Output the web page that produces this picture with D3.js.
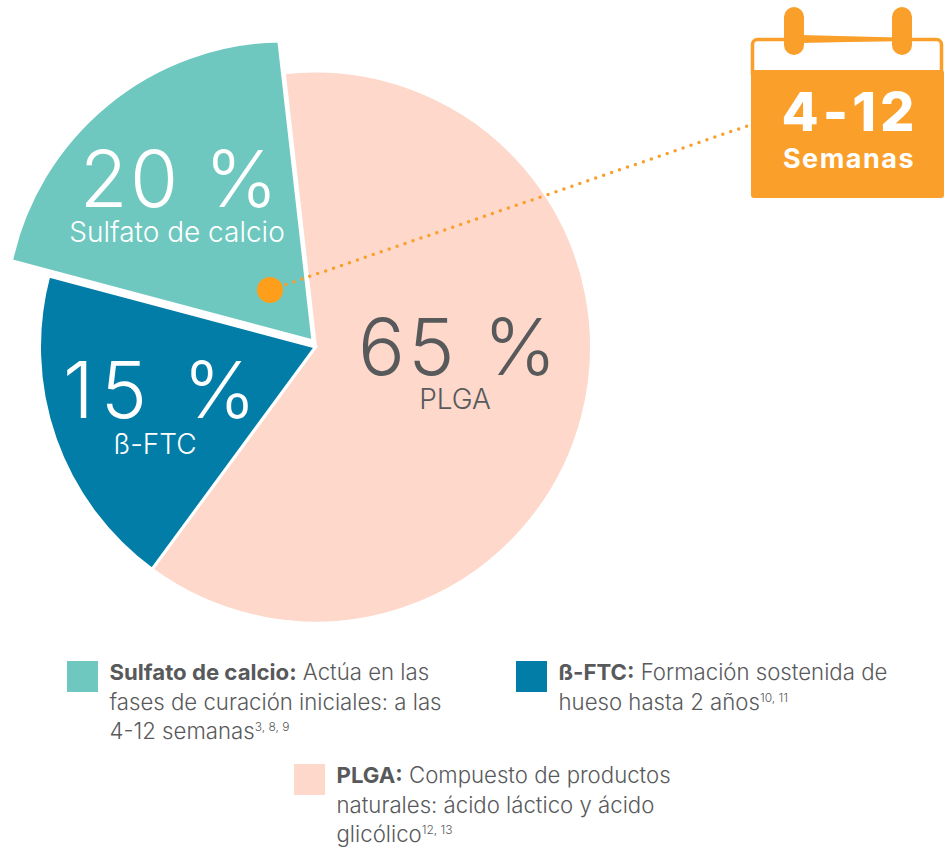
<!DOCTYPE html>
<html>
<head>
<meta charset="utf-8">
<script src="https://cdn.jsdelivr.net/npm/d3@7/dist/d3.min.js"></script>
<style>
    html, body { margin: 0; padding: 0; background: #fff; }
    svg { display: block; }
    text { font-family: Inter, "Open Sans", sans-serif; fill: #58595b; }
</style>
</head>
<body>
<svg id="chart" width="944" height="848"></svg>
<script>
// Labels printed on the chart.
var categories = ['PLGA', 'ß-FTC', 'Sulfato de calcio'];
var percentLabels = ['65 %', '15 %', '20 %'];
// Shares as drawn in the picture, the wedges are not cut exactly to the printed percentages.
var drawnShares = [61.9, 19.05, 19.05];
var colors = ['#fdd8cb', '#027da8', '#6ec8bf'];
var labelColors = ['#58595b', '#ffffff', '#ffffff'];

var legendBold = ['PLGA:', 'ß-FTC:', 'Sulfato de calcio:'];
var legendLines = [
    [' Compuesto de productos', 'naturales: ácido láctico y ácido', 'glicólico'],
    [' Formación sostenida de', 'hueso hasta 2 años'],
    [' Actúa en las', 'fases de curación iniciales: a las', '4-12 semanas']
];
var legendRefs = ['12, 13', '10, 11', '3, 8, 9'];

var calendarRange = '4-12';
var calendarUnit = 'Semanas';

var orange = '#fb9f2b';
var center = {x: 315.5, y: 347};
var radius = 276;
var startAngle = -6.5 * Math.PI / 180;

// Layout of the texts and legend blocks, same order as categories.
var percentPos = [{x: 459, y: 375}, {x: 163, y: 418}, {x: 180, y: 207}];
var percentSpacing = [3.5, 7, 2.3];
var namePos = [{x: 455, y: 409}, {x: 155, y: 454}, {x: 177, y: 242}];
var legendPos = [{x: 294, y: 764}, {x: 516, y: 661}, {x: 67, y: 661}];

var svg = d3.select('svg#chart');

var pie = d3.pie().sort(null)
    .startAngle(startAngle)
    .endAngle(startAngle + 2 * Math.PI);
var slices = pie(drawnShares);

var arc = d3.arc().innerRadius(0).outerRadius(radius);

/**
 * The calcium sulfate wedge sticks out of the pie, its arc has its own centre
 * so the two straight edges are not the same length.
 */
function explodedPath(d) {
    var apex = {x: 313, y: 341};
    var a0 = d.startAngle, a1 = d.endAngle;
    var p0 = {x: apex.x + 312 * Math.sin(a0), y: apex.y - 312 * Math.cos(a0)};
    var p1 = {x: apex.x + 302 * Math.sin(a1), y: apex.y - 302 * Math.cos(a1)};
    return 'M' + apex.x + ',' + apex.y + 'L' + p0.x + ',' + p0.y +
        'A279.5,279.5 0 0 1 ' + p1.x + ',' + p1.y + 'Z';
}

svg.append('g')
    .attr('transform', 'translate(' + center.x + ',' + center.y + ')')
    .selectAll('path')
    .data(slices.slice(0, 2))
    .enter().append('path')
        .attr('d', arc)
        .attr('fill', function(d, i) { return colors[i]; })
        .attr('stroke', '#fff')
        .attr('stroke-width', 3);

svg.append('path')
    .datum(slices[2])
    .attr('d', explodedPath)
    .attr('fill', colors[2])
    .attr('stroke', '#fff')
    .attr('stroke-width', 3)
    .attr('stroke-linejoin', 'miter');

// Big percent labels
svg.append('g').selectAll('text')
    .data(percentLabels)
    .enter().append('text')
        .attr('x', function(d, i) { return percentPos[i].x; })
        .attr('y', function(d, i) { return percentPos[i].y; })
        .attr('text-anchor', 'middle')
        .style('font-size', '78px')
        .style('font-weight', 300)
        .style('letter-spacing', function(d, i) { return percentSpacing[i] + 'px'; })
        .style('fill', function(d, i) { return labelColors[i]; })
        .text(function(d) { return d; });

svg.append('g').selectAll('text')
    .data(categories)
    .enter().append('text')
        .attr('x', function(d, i) { return namePos[i].x; })
        .attr('y', function(d, i) { return namePos[i].y; })
        .attr('text-anchor', 'middle')
        .style('font-size', '28px')
        .style('font-weight', 300)
        .style('fill', function(d, i) { return labelColors[i]; })
        .text(function(d) { return d; });

// Dotted leader to the calendar
svg.append('line')
    .attr('x1', 270).attr('y1', 290)
    .attr('x2', 750).attr('y2', 125)
    .attr('stroke', orange)
    .attr('stroke-width', 3.5)
    .attr('stroke-linecap', 'round')
    .attr('stroke-dasharray', '0 8.4');

svg.append('circle')
    .attr('cx', 270).attr('cy', 290).attr('r', 13)
    .attr('fill', '#ff9e1b');

// Calendar
var cal = svg.append('g');
cal.append('rect')
    .attr('x', 752.5).attr('y', 39.5).attr('width', 189).attr('height', 40).attr('rx', 5)
    .attr('fill', '#fff').attr('stroke', orange).attr('stroke-width', 3.5);
cal.append('path')
    .attr('d', 'M800,35L897,37.5L897,41L800,43Z')
    .attr('fill', orange);
cal.append('rect')
    .attr('x', 751).attr('y', 70).attr('width', 193).attr('height', 128).attr('rx', 3)
    .attr('fill', orange);
cal.selectAll('.ring')
    .data([784, 892])
    .enter().append('rect')
        .attr('class', 'ring')
        .attr('x', function(d) { return d; })
        .attr('y', 7).attr('width', 20).attr('height', 48).attr('rx', 10)
        .attr('fill', orange);
cal.append('text')
    .attr('x', 850).attr('y', 131)
    .attr('text-anchor', 'middle')
    .style('font-size', '54px').style('font-weight', 800).style('letter-spacing', '4px').style('fill', '#fff')
    .text(calendarRange);
cal.append('text')
    .attr('x', 849).attr('y', 168)
    .attr('text-anchor', 'middle')
    .style('font-size', '27px').style('font-weight', 700).style('letter-spacing', '1.5px').style('fill', '#fff')
    .text(calendarUnit);

// Legend blocks
var legend = svg.append('g').selectAll('g')
    .data(categories)
    .enter().append('g')
        .attr('transform', function(d, i) { return 'translate(' + legendPos[i].x + ',' + legendPos[i].y + ')'; });

legend.append('rect')
    .attr('width', 31).attr('height', 31)
    .attr('fill', function(d, i) { return colors[i]; });

legend.each(function(d, i) {
    var t = d3.select(this).append('text')
        .attr('x', 42.5).attr('y', 19)
        .style('font-size', '22.2px')
        .style('font-weight', 300);
    legendLines[i].forEach(function(line, j) {
        if (j === 0) {
            t.append('tspan').style('font-weight', 700).text(legendBold[i]);
            t.append('tspan').attr('xml:space', 'preserve').text(line);
        } else {
            t.append('tspan').attr('x', 42.5).attr('dy', 29.5).text(line);
        }
    });
    t.append('tspan')
        .attr('dy', -8)
        .style('font-size', '12px')
        .text(legendRefs[i]);
});
</script>
</body>
</html>
